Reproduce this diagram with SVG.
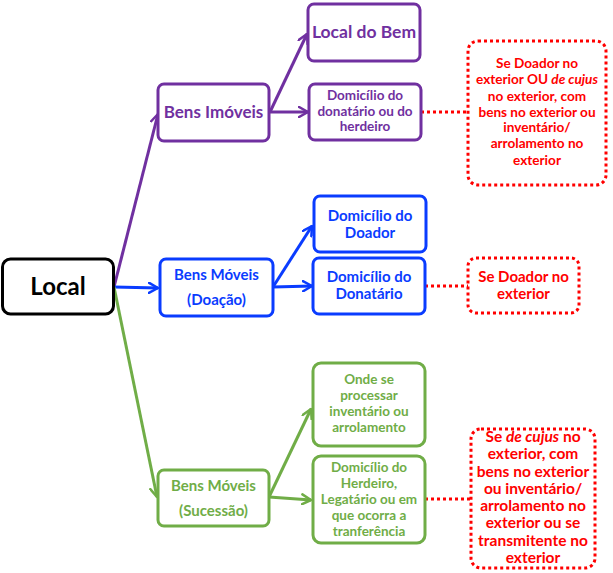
<svg xmlns="http://www.w3.org/2000/svg" width="613" height="573" viewBox="0 0 613 573">
<defs>
<style>
text{font-family:Lato,"Open Sans","Liberation Sans",sans-serif;font-weight:bold;text-anchor:middle}
.box{fill:#fff;stroke-width:3}
.p{stroke:#7030A0}.pt{fill:#7030A0}
.b{stroke:#0A3CFF}.bt{fill:#0A3CFF}
.g{stroke:#70AD47}.gt{fill:#70AD47}
.r{fill:none;stroke:#FF0000;stroke-width:3;stroke-dasharray:3 3}
.rt{fill:#FF0000}
.ln{fill:none;stroke-width:3}
</style>
<marker id="ap" viewBox="0 0 12 12" refX="10" refY="6" markerWidth="12" markerHeight="12" markerUnits="userSpaceOnUse" orient="auto"><path d="M1,1 L10,6 L1,11" fill="none" stroke="#7030A0" stroke-width="2.5" stroke-linecap="round" stroke-linejoin="round"/></marker>
<marker id="ab" viewBox="0 0 12 12" refX="10" refY="6" markerWidth="12" markerHeight="12" markerUnits="userSpaceOnUse" orient="auto"><path d="M1,1 L10,6 L1,11" fill="none" stroke="#0A3CFF" stroke-width="2.5" stroke-linecap="round" stroke-linejoin="round"/></marker>
<marker id="ag" viewBox="0 0 12 12" refX="10" refY="6" markerWidth="12" markerHeight="12" markerUnits="userSpaceOnUse" orient="auto"><path d="M1,1 L10,6 L1,11" fill="none" stroke="#70AD47" stroke-width="2.5" stroke-linecap="round" stroke-linejoin="round"/></marker>
</defs>
<rect width="613" height="573" fill="#fff"/>
<g id="connectors">
<path class="ln p" d="M114,287 L158,114" marker-end="url(#ap)"/>
<path class="ln b" d="M114,287 L158,288" marker-end="url(#ab)"/>
<path class="ln g" d="M114,287 L157,497" marker-end="url(#ag)"/>
<path class="ln p" d="M270,112 L307,34" marker-end="url(#ap)"/>
<path class="ln p" d="M270,112 L308,112" marker-end="url(#ap)"/>
<path class="ln b" d="M273,287 L312,226" marker-end="url(#ab)"/>
<path class="ln b" d="M273,287 L312,286" marker-end="url(#ab)"/>
<path class="ln g" d="M269,497 L311,409" marker-end="url(#ag)"/>
<path class="ln g" d="M269,497 L311,500" marker-end="url(#ag)"/>
<path class="r" d="M421,112 L468,112"/>
<path class="r" d="M425,286 L468,286"/>
<path class="r" d="M425,499 L471,499"/>
</g>
<g id="local"><rect class="box" x="2.5" y="259" width="111" height="55" rx="8" stroke="#000"/><text x="58" y="295" font-size="24" fill="#000">Local</text></g>
<g id="bens-imoveis"><rect class="box p" x="158" y="84" width="111" height="57" rx="6"/><text class="pt" x="213.5" y="118" font-size="17">Bens Imóveis</text></g>
<g id="local-do-bem"><rect class="box p" x="308" y="4" width="112" height="57" rx="6"/><text class="pt" x="364" y="38" font-size="17.5">Local do Bem</text></g>
<g id="domicilio-donatario-herdeiro"><rect class="box p" x="309" y="84" width="112" height="56" rx="6"/><text class="pt" font-size="13.5"><tspan x="365" y="100">Domicílio do</tspan><tspan x="365" y="116">donatário ou do</tspan><tspan x="365" y="131">herdeiro</tspan></text></g>
<g id="nota-imoveis"><rect class="r" x="468" y="41" width="138" height="144" rx="10"/><text class="rt" font-size="13.6"><tspan x="537" y="68">Se Doador no</tspan><tspan x="537" y="84">exterior OU <tspan font-style="italic">de cujus</tspan></tspan><tspan x="537" y="101">no exterior, com</tspan><tspan x="537" y="117">bens no exterior ou</tspan><tspan x="537" y="132">inventário/</tspan><tspan x="537" y="148">arrolamento no</tspan><tspan x="537" y="165">exterior</tspan></text></g>
<g id="bens-moveis-doacao"><rect class="box b" x="160" y="259" width="113" height="57" rx="6"/><text class="bt" font-size="15"><tspan x="216.5" y="280">Bens Móveis</tspan><tspan x="216.5" y="305">(Doação)</tspan></text></g>
<g id="domicilio-doador"><rect class="box b" x="314" y="196" width="112" height="56" rx="6"/><text class="bt" font-size="15"><tspan x="370" y="221">Domicílio do</tspan><tspan x="370" y="238">Doador</tspan></text></g>
<g id="domicilio-donatario"><rect class="box b" x="313" y="258" width="112" height="56" rx="6"/><text class="bt" font-size="15"><tspan x="369" y="282">Domicílio do</tspan><tspan x="369" y="299">Donatário</tspan></text></g>
<g id="nota-doacao"><rect class="r" x="468" y="258" width="111" height="55" rx="8"/><text class="rt" font-size="15"><tspan x="523.5" y="282">Se Doador no</tspan><tspan x="523.5" y="299">exterior</tspan></text></g>
<g id="bens-moveis-sucessao"><rect class="box g" x="158" y="470" width="111" height="56" rx="6"/><text class="gt" font-size="15"><tspan x="213.5" y="491">Bens Móveis</tspan><tspan x="213.5" y="516">(Sucessão)</tspan></text></g>
<g id="onde-processar"><rect class="box g" x="313" y="363" width="112" height="83" rx="8"/><text class="gt" font-size="13.5"><tspan x="369" y="384">Onde se</tspan><tspan x="369" y="400">processar</tspan><tspan x="369" y="416">inventário ou</tspan><tspan x="369" y="432">arrolamento</tspan></text></g>
<g id="domicilio-herdeiro"><rect class="box g" x="313" y="456" width="112" height="87" rx="8"/><text class="gt" font-size="13.5"><tspan x="369" y="472">Domicílio do</tspan><tspan x="369" y="488">Herdeiro,</tspan><tspan x="369" y="504">Legatário ou em</tspan><tspan x="369" y="520">que ocorra a</tspan><tspan x="369" y="536">tranferência</tspan></text></g>
<g id="nota-sucessao"><rect class="r" x="471" y="429" width="124" height="139" rx="10"/><text class="rt" font-size="15.5"><tspan x="533" y="442">Se <tspan font-style="italic">de cujus</tspan> no</tspan><tspan x="533" y="459">exterior, com</tspan><tspan x="533" y="477">bens no exterior</tspan><tspan x="533" y="494">ou inventário/</tspan><tspan x="533" y="511">arrolamento no</tspan><tspan x="533" y="528">exterior ou se</tspan><tspan x="533" y="546">transmitente no</tspan><tspan x="533" y="563">exterior</tspan></text></g>
</svg>
